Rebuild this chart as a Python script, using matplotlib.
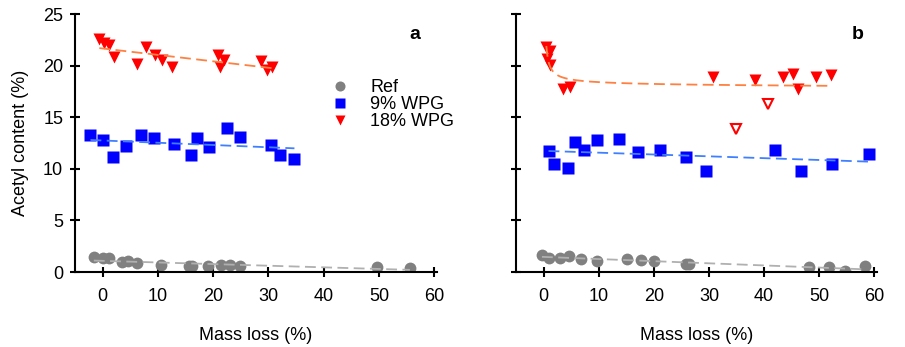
import matplotlib.pyplot as plt
import numpy as np

plt.rcParams['font.family'] = ['Liberation Sans', 'DejaVu Sans']
plt.rcParams['font.size'] = 13

# panel a
a_ref_x = [-1.6, 0.0, 1.2, 3.5, 4.6, 6.3, 10.6, 15.6, 16.2, 19.0, 21.4, 23.0, 24.9, 49.7, 55.6]
a_ref_y = [1.42, 1.33, 1.33, 1.0, 1.07, 0.84, 0.68, 0.61, 0.61, 0.58, 0.68, 0.68, 0.61, 0.52, 0.35]
a_w9_x = [-2.2, 0.1, 1.9, 4.2, 6.9, 9.2, 12.9, 15.9, 17.1, 19.3, 22.5, 24.9, 30.5, 32.0, 34.7]
a_w9_y = [13.3, 12.8, 11.1, 12.2, 13.3, 13.0, 12.4, 11.3, 13.0, 12.1, 14.0, 13.1, 12.3, 11.3, 10.95]
a_w18_x = [-0.6, 0.3, 1.1, 2.0, 6.3, 7.9, 9.4, 10.8, 12.5, 20.9, 21.9, 21.3, 28.6, 29.7, 30.6]
a_w18_y = [22.6, 22.2, 22.0, 20.8, 20.2, 21.8, 21.0, 20.5, 19.9, 21.0, 20.5, 19.9, 20.4, 19.6, 19.9]

# panel b
b_ref_x = [-0.3, 0.9, 2.9, 4.7, 6.7, 9.7, 15.2, 17.6, 20.1, 25.8, 26.4, 48.2, 51.7, 54.7, 58.3]
b_ref_y = [1.67, 1.35, 1.35, 1.6, 1.29, 1.09, 1.26, 1.13, 1.03, 0.77, 0.77, 0.45, 0.45, 0.06, 0.61]
b_w9_x = [0.9, 1.8, 4.5, 5.7, 7.3, 9.7, 13.6, 17.1, 21.2, 25.8, 29.4, 42.0, 46.7, 52.4, 59.0]
b_w9_y = [11.7, 10.5, 10.1, 12.6, 11.8, 12.8, 12.9, 11.6, 11.8, 11.1, 9.75, 11.8, 9.75, 10.5, 11.45]
b_w18_x = [0.5, 1.2, 0.6, 1.2, 3.6, 4.8, 30.8, 38.3, 43.4, 45.2, 46.1, 49.5, 52.1]
b_w18_y = [21.8, 21.4, 20.6, 20.1, 17.7, 17.9, 18.9, 18.6, 18.9, 19.2, 17.7, 18.9, 19.1]
b_out_x = [40.7, 35.0]
b_out_y = [16.3, 13.9]
# points read along the fitted 18% WPG curve of panel b
b_fit_x = [0.5, 1.2, 4.2, 12.0, 25.2, 51.7]
b_fit_y = [22.0, 19.6, 18.9, 18.5, 18.2, 17.9]

fig = plt.figure(figsize=(9.05, 3.47), dpi=100)
ax1 = fig.add_axes([0.0829, 0.2161, 0.4, 0.7435])
ax2 = fig.add_axes([0.5702, 0.2161, 0.3989, 0.7435])

ms = 8.5


def lin_line(ax, x, y, color):
    p = np.polyfit(x, y, 1)
    xs = np.linspace(min(x), max(x), 100)
    ax.plot(xs, np.polyval(p, xs), '--', color=color, lw=1.3, dashes=(6, 3), zorder=3)


def curve_line(ax, x, y, color):
    # y = c0 + c1/x + c2*ln(x)
    x = np.asarray(x)
    A = np.column_stack([np.ones_like(x), 1 / x, np.log(x)])
    c = np.linalg.lstsq(A, np.asarray(y), rcond=None)[0]
    xs = np.linspace(min(x), max(x), 400)
    ax.plot(xs, c[0] + c[1] / xs + c[2] * np.log(xs), '--', color=color, lw=1.3,
            dashes=(6, 3), zorder=3)


ax1.plot(a_ref_x, a_ref_y, 'o', color='#808080', ms=ms, mec='none', label='Ref', zorder=2)
ax1.plot(a_w9_x, a_w9_y, 's', color='#0000ff', ms=ms, mec='none', label='9% WPG', zorder=2)
ax1.plot(a_w18_x, a_w18_y, 'v', color='#ff0000', ms=ms, mec='none', label='18% WPG', zorder=2)
lin_line(ax1, a_ref_x, a_ref_y, '#b0b0b0')
lin_line(ax1, a_w9_x, a_w9_y, '#4080ff')
lin_line(ax1, a_w18_x, a_w18_y, '#ff8040')

ax2.plot(b_ref_x, b_ref_y, 'o', color='#808080', ms=ms, mec='none', zorder=2)
ax2.plot(b_w9_x, b_w9_y, 's', color='#0000ff', ms=ms, mec='none', zorder=2)
ax2.plot(b_w18_x, b_w18_y, 'v', color='#ff0000', ms=ms, mec='none', zorder=2)
ax2.plot(b_out_x, b_out_y, 'v', mfc='white', mec='#ff0000', mew=1.5, ms=ms - 1, zorder=2)
lin_line(ax2, b_ref_x, b_ref_y, '#b0b0b0')
lin_line(ax2, b_w9_x, b_w9_y, '#4080ff')
curve_line(ax2, b_fit_x, b_fit_y, '#ff8040')

for ax in (ax1, ax2):
    ax.set_xlim(-5, 60.5)
    ax.set_ylim(0, 25)
    ax.set_xticks([0, 10, 20, 30, 40, 50, 60])
    ax.set_yticks([0, 5, 10, 15, 20, 25])
    for s in ('top', 'right'):
        ax.spines[s].set_visible(False)
    for s in ('left', 'bottom'):
        ax.spines[s].set_linewidth(1.5)
    ax.tick_params(direction='inout', length=7, width=1.5, labelsize=13)
    ax.tick_params(axis='x', pad=8)
    ax.tick_params(axis='y', pad=5)
    ax.set_xlabel('Mass loss (%)', fontsize=13, labelpad=16)

ax2.tick_params(axis='y', labelleft=False)
ax1.set_ylabel('Acetyl content (%)', fontsize=13)
ax1.yaxis.set_label_coords(-0.127, 0.5)

ax1.text(0.939, 0.919, 'a', transform=ax1.transAxes, fontsize=14, fontweight='bold', ha='center', va='center')
ax2.text(0.947, 0.919, 'b', transform=ax2.transAxes, fontsize=14, fontweight='bold', ha='center', va='center')

ax1.legend(loc='upper left', bbox_to_anchor=(0.687, 0.775), borderaxespad=0, frameon=False,
           handlelength=1, handletextpad=1.17, labelspacing=0.0, fontsize=13, markerscale=0.85)

fig.savefig('out.png', dpi=100)
